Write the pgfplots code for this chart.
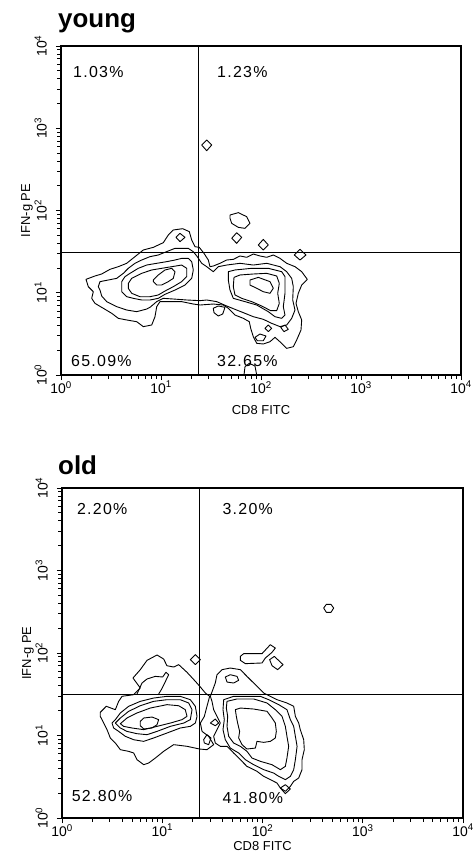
\documentclass[border=0pt]{standalone}
\usepackage{fontspec}
\setmainfont{Liberation Sans}
\newfontfamily\pctfont[LetterSpace=8]{Liberation Sans}
\usepackage{pgfplots}
\pgfplotsset{compat=1.18}
\newcommand\tickfont{\fontsize{14}{14}\selectfont}
\newcommand\labfont{\fontsize{13}{13}\selectfont}
\newcommand\pfont{\pctfont\fontsize{16}{16}\selectfont}
\tikzset{ct/.style={black, line width=0.9bp, line join=round, mark=none}}
\pgfplotsset{
  flow/.style={
    scale only axis, width=400bp, height=329bp,
    xmin=0, xmax=4, ymin=0, ymax=4,
    xtick={0,1,2,3,4}, ytick={0,1,2,3,4},
    xticklabels={10\textsuperscript{0},10\textsuperscript{1},10\textsuperscript{2},10\textsuperscript{3},10\textsuperscript{4}},
    yticklabels={10\textsuperscript{0},10\textsuperscript{1},10\textsuperscript{2},10\textsuperscript{3},10\textsuperscript{4}},
    minor xtick={0.301,0.477,0.602,0.699,0.778,0.845,0.903,0.954,1.301,1.477,1.602,1.699,1.778,1.845,1.903,1.954,2.301,2.477,2.602,2.699,2.778,2.845,2.903,2.954,3.301,3.477,3.602,3.699,3.778,3.845,3.903,3.954},
    minor ytick={0.301,0.477,0.602,0.699,0.778,0.845,0.903,0.954,1.301,1.477,1.602,1.699,1.778,1.845,1.903,1.954,2.301,2.477,2.602,2.699,2.778,2.845,2.903,2.954,3.301,3.477,3.602,3.699,3.778,3.845,3.903,3.954},
    tick align=outside, xtick pos=bottom, ytick pos=left,
    major tick length=5bp, minor tick length=3.5bp,
    tick style={black, line width=0.8bp},
    axis line style={black, line width=1.5bp},
    xticklabel style={font=\tickfont, anchor=north, inner sep=1bp},
    yticklabel style={font=\tickfont, rotate=90, anchor=south, inner sep=1bp},
    yticklabel shift=8bp,
    xlabel={CD8 FITC}, ylabel={IFN-g PE},
    every axis x label/.style={at={(axis description cs:0.5,0)}, anchor=center, font=\labfont},
    every axis y label/.style={at={(axis description cs:-0.085,0.5)}, rotate=90, anchor=center, font=\labfont},
    title style={at={(axis description cs:0,1)}, anchor=base west, inner sep=0pt, font=\fontsize{26}{28}\selectfont\bfseries},
  }
}
\begin{document}
\begin{tikzpicture}
\path[use as bounding box] (0,0) rectangle (474bp,-859bp);
% ---------------- young ----------------
\begin{axis}[flow, at={(61bp,-46bp)}, anchor=north west,
  title={young}, title style={xshift=-3bp, yshift=13bp},
  x label style={yshift=-35bp}]
\addplot[black, line width=1.4bp] coordinates {(1.373,0) (1.373,4)};
\addplot[black, line width=1.4bp] coordinates {(0,1.487) (4,1.487)};
% level 1
\addplot[ct] coordinates {(0.25,1.163) (0.34,1.204) (0.407,1.228) (0.49,1.285) (0.573,1.317) (0.657,1.358) (0.74,1.439) (0.823,1.52) (0.923,1.552) (1.023,1.609) (1.073,1.702) (1.123,1.763) (1.217,1.779) (1.283,1.743) (1.307,1.641) (1.34,1.56) (1.383,1.552) (1.43,1.479) (1.473,1.398) (1.49,1.317) (1.523,1.325) (1.59,1.358) (1.657,1.398) (1.723,1.406) (1.79,1.447) (1.857,1.431) (1.923,1.471) (1.99,1.447) (2.057,1.431) (2.123,1.459) (2.19,1.418) (2.257,1.358) (2.34,1.317) (2.407,1.256) (2.463,1.163) (2.407,1.094) (2.373,0.993) (2.35,0.871) (2.373,0.77) (2.407,0.669) (2.4,0.547) (2.357,0.426) (2.323,0.344) (2.257,0.324) (2.207,0.385) (2.14,0.458) (2.09,0.405) (2.023,0.377) (1.957,0.385) (1.923,0.466) (1.897,0.567) (1.883,0.648) (1.823,0.689) (1.74,0.729) (1.673,0.811) (1.623,0.851) (1.523,0.863) (1.39,0.851) (1.323,0.863) (1.207,0.892) (1.09,0.892) (0.99,0.892) (0.957,0.831) (0.94,0.709) (0.907,0.608) (0.823,0.588) (0.757,0.648) (0.657,0.669) (0.573,0.689) (0.507,0.75) (0.423,0.811) (0.34,0.871) (0.307,0.932) (0.323,1.013) (0.273,1.074)} --cycle;
% level 2
\addplot[ct] coordinates {(0.373,1.074) (0.39,1.135) (0.473,1.155) (0.557,1.175) (0.623,1.236) (0.673,1.297) (0.74,1.358) (0.807,1.398) (0.89,1.439) (0.973,1.459) (1.073,1.508) (1.14,1.54) (1.273,1.54) (1.323,1.499) (1.363,1.439) (1.407,1.358) (1.457,1.317) (1.523,1.256) (1.573,1.317) (1.657,1.337) (1.79,1.358) (1.923,1.337) (2.057,1.358) (2.19,1.317) (2.257,1.256) (2.307,1.175) (2.323,1.074) (2.317,0.912) (2.34,0.79) (2.307,0.689) (2.257,0.608) (2.19,0.588) (2.107,0.628) (2.023,0.677) (1.923,0.709) (1.84,0.75) (1.757,0.79) (1.657,0.839) (1.557,0.892) (1.457,0.912) (1.39,0.904) (1.257,0.912) (1.123,0.924) (1.023,0.932) (0.957,0.892) (0.89,0.823) (0.857,0.802) (0.757,0.77) (0.657,0.79) (0.557,0.831) (0.457,0.892) (0.407,0.96) (0.39,1.033)} --cycle;
% level 3 left
\addplot[ct] coordinates {(0.607,1.135) (0.64,1.196) (0.69,1.236) (0.773,1.297) (0.857,1.337) (0.957,1.358) (1.057,1.378) (1.14,1.398) (1.207,1.418) (1.273,1.418) (1.307,1.378) (1.323,1.277) (1.307,1.175) (1.24,1.094) (1.14,1.033) (1.04,0.981) (0.973,0.932) (0.89,0.912) (0.807,0.912) (0.723,0.932) (0.657,0.952) (0.607,1.013)} --cycle;
% level 4 left
\addplot[ct] coordinates {(0.673,1.114) (0.707,1.175) (0.807,1.236) (0.907,1.277) (1.007,1.297) (1.107,1.317) (1.207,1.337) (1.257,1.297) (1.257,1.196) (1.207,1.135) (1.123,1.074) (1.04,1.021) (0.973,0.973) (0.89,0.952) (0.79,0.952) (0.707,0.993) (0.673,1.054)} --cycle;
% level 5 left
\addplot[ct] coordinates {(0.923,1.155) (0.973,1.216) (1.04,1.277) (1.107,1.297) (1.14,1.256) (1.123,1.175) (1.073,1.135) (1.007,1.094) (0.957,1.094) (0.923,1.135)} --cycle;
% level 3 right
\addplot[ct] coordinates {(1.673,1.256) (1.74,1.277) (1.907,1.297) (2.073,1.297) (2.207,1.256) (2.24,1.196) (2.24,0.993) (2.223,0.831) (2.24,0.729) (2.207,0.689) (2.14,0.709) (2.073,0.77) (1.957,0.851) (1.84,0.892) (1.723,0.932) (1.69,1.033) (1.673,1.155)} --cycle;
% level 4 right
\addplot[ct] coordinates {(1.73,1.187) (1.79,1.216) (1.923,1.228) (2.057,1.236) (2.157,1.204) (2.183,1.114) (2.167,0.993) (2.183,0.871) (2.157,0.782) (2.097,0.782) (2.007,0.839) (1.907,0.892) (1.807,0.932) (1.74,0.973) (1.723,1.074)} --cycle;
% level 5 right
\addplot[ct] coordinates {(1.89,1.155) (1.973,1.187) (2.09,1.135) (2.123,1.054) (2.09,0.993) (2.023,1.013) (1.957,1.054) (1.89,1.094)} --cycle;
% islands
\addplot[ct] coordinates {(1.407,2.796) (1.457,2.857) (1.507,2.796) (1.457,2.727)} --cycle;
\addplot[ct] coordinates {(1.69,1.945) (1.773,1.974) (1.857,1.925) (1.89,1.844) (1.84,1.783) (1.773,1.795) (1.707,1.844) (1.69,1.905)} --cycle;
\addplot[ct] coordinates {(1.707,1.662) (1.757,1.73) (1.807,1.674) (1.757,1.601)} --cycle;
\addplot[ct] coordinates {(1.973,1.581) (2.023,1.649) (2.073,1.581) (2.023,1.52)} --cycle;
\addplot[ct] coordinates {(2.333,1.459) (2.39,1.528) (2.45,1.459) (2.39,1.398)} --cycle;
\addplot[ct] coordinates {(1.15,1.674) (1.19,1.722) (1.24,1.674) (1.19,1.621)} --cycle;
\addplot[ct] coordinates {(1.523,0.811) (1.573,0.839) (1.64,0.823) (1.617,0.742) (1.573,0.717) (1.53,0.758)} --cycle;
\addplot[ct] coordinates {(1.94,0.458) (1.99,0.498) (2.05,0.474) (2.023,0.417) (1.963,0.417)} --cycle;
\addplot[ct] coordinates {(2.04,0.567) (2.073,0.608) (2.107,0.567) (2.073,0.527)} --cycle;
\addplot[ct] coordinates {(2.197,0.58) (2.24,0.608) (2.273,0.555) (2.23,0.527)} --cycle;
\addplot[ct] coordinates {(1.83,0) (1.84,0.101) (1.883,0.142) (1.94,0.109) (1.957,0)};
\node[anchor=west, inner sep=0pt, font=\pfont] at (rel axis cs:0.03,0.921) {1.03\%};
\node[anchor=west, inner sep=0pt, font=\pfont] at (rel axis cs:0.39,0.921) {1.23\%};
\node[anchor=west, inner sep=0pt, font=\pfont] at (rel axis cs:0.025,0.043) {65.09\%};
\node[anchor=west, inner sep=0pt, font=\pfont] at (rel axis cs:0.39,0.043) {32.65\%};
\end{axis}
% ---------------- old ----------------
\begin{axis}[flow, at={(62bp,-488bp)}, anchor=north west, width=401bp, height=330bp,
  title={old}, title style={xshift=-4bp, yshift=8bp},
  x label style={yshift=-28bp}]
\addplot[black, line width=1.4bp] coordinates {(1.373,0) (1.373,4)};
\addplot[black, line width=1.4bp] coordinates {(0,1.495) (4,1.495)};
% left level 1
\addplot[ct] coordinates {(0.382,1.281) (0.442,1.354) (0.532,1.313) (0.565,1.414) (0.599,1.475) (0.715,1.495) (0.781,1.576) (0.708,1.697) (0.781,1.798) (0.848,1.911) (0.948,1.976) (1.014,1.927) (1.047,1.846) (1.114,1.83) (1.164,1.859) (1.247,1.766) (1.33,1.657) (1.38,1.588) (1.43,1.515) (1.473,1.475) (1.446,1.354) (1.42,1.232) (1.38,1.151) (1.397,1.05) (1.463,0.99) (1.513,0.889) (1.446,0.828) (1.373,0.836) (1.247,0.869) (1.114,0.889) (1.014,0.808) (0.931,0.727) (0.865,0.667) (0.815,0.646) (0.748,0.707) (0.715,0.788) (0.665,0.808) (0.582,0.828) (0.532,0.909) (0.482,0.97) (0.449,1.071) (0.416,1.151) (0.382,1.232)} --cycle;
% left level 2
\addplot[ct] coordinates {(0.499,1.151) (0.532,1.192) (0.582,1.273) (0.665,1.354) (0.781,1.414) (0.914,1.454) (1.047,1.475) (1.18,1.475) (1.28,1.434) (1.33,1.354) (1.347,1.232) (1.33,1.151) (1.28,1.111) (1.18,1.091) (1.047,1.03) (0.914,0.97) (0.815,0.929) (0.715,0.949) (0.632,0.99) (0.565,1.05) (0.515,1.091)} --cycle;
% left level 3
\addplot[ct] coordinates {(0.532,1.151) (0.582,1.212) (0.665,1.293) (0.781,1.361) (0.914,1.414) (1.047,1.434) (1.18,1.434) (1.264,1.394) (1.297,1.313) (1.28,1.192) (1.214,1.151) (1.081,1.111) (0.948,1.05) (0.848,1.01) (0.748,1.022) (0.648,1.05) (0.582,1.091)} --cycle;
% left level 4
\addplot[ct] coordinates {(0.582,1.143) (0.648,1.212) (0.748,1.273) (0.881,1.333) (1.047,1.374) (1.164,1.361) (1.23,1.313) (1.247,1.232) (1.197,1.192) (1.081,1.151) (0.948,1.111) (0.815,1.071) (0.698,1.091) (0.615,1.111)} --cycle;
% left level 5
\addplot[ct] coordinates {(0.781,1.172) (0.815,1.212) (0.898,1.224) (0.964,1.192) (0.948,1.131) (0.898,1.091) (0.815,1.079) (0.781,1.119)} --cycle;
% upper-left inner
\addplot[ct] coordinates {(0.748,1.503) (0.798,1.636) (0.848,1.685) (0.931,1.717) (1.004,1.709) (1.037,1.766) (1.064,1.737) (1.024,1.636) (0.991,1.556) (0.964,1.503)};
% right level 1
\addplot[ct] coordinates {(1.48,1.475) (1.529,1.636) (1.546,1.737) (1.596,1.798) (1.679,1.818) (1.779,1.798) (1.845,1.717) (1.912,1.636) (1.962,1.576) (2.012,1.515) (2.078,1.475) (2.145,1.434) (2.244,1.394) (2.311,1.354) (2.328,1.232) (2.361,1.151) (2.377,1.071) (2.411,0.949) (2.417,0.828) (2.394,0.707) (2.394,0.586) (2.361,0.485) (2.311,0.444) (2.278,0.384) (2.228,0.323) (2.178,0.364) (2.145,0.424) (2.078,0.465) (2.012,0.505) (1.945,0.566) (1.845,0.626) (1.779,0.707) (1.712,0.788) (1.646,0.869) (1.579,0.869) (1.529,0.909) (1.513,0.99) (1.546,1.071) (1.579,1.151) (1.546,1.232) (1.513,1.313) (1.496,1.414)} --cycle;
% right level 2
\addplot[ct] coordinates {(1.613,1.434) (1.712,1.475) (1.845,1.475) (1.979,1.475) (2.062,1.434) (2.162,1.374) (2.244,1.313) (2.278,1.192) (2.311,1.111) (2.328,0.99) (2.345,0.869) (2.328,0.707) (2.311,0.586) (2.278,0.505) (2.228,0.465) (2.162,0.505) (2.111,0.545) (2.012,0.586) (1.912,0.646) (1.829,0.707) (1.762,0.788) (1.679,0.848) (1.629,0.949) (1.606,1.071) (1.619,1.192) (1.606,1.313)} --cycle;
% right level 3
\addplot[ct] coordinates {(1.646,1.414) (1.746,1.443) (1.912,1.443) (2.045,1.394) (2.128,1.313) (2.195,1.232) (2.228,1.111) (2.244,0.99) (2.261,0.869) (2.244,0.727) (2.228,0.626) (2.178,0.586) (2.095,0.646) (1.979,0.687) (1.895,0.727) (1.845,0.808) (1.779,0.869) (1.712,0.909) (1.663,0.99) (1.646,1.111) (1.653,1.232) (1.639,1.333)} --cycle;
% right level 4
\addplot[ct] coordinates {(1.729,1.313) (1.779,1.333) (1.912,1.321) (2.045,1.293) (2.095,1.212) (2.128,1.151) (2.138,1.05) (2.128,0.97) (2.078,0.929) (2.012,0.917) (1.945,0.929) (1.929,0.848) (1.845,0.836) (1.796,0.889) (1.762,0.97) (1.772,1.05) (1.752,1.151) (1.739,1.232)} --cycle;
% islands
\addplot[ct] coordinates {(2.61,2.545) (2.637,2.59) (2.683,2.59) (2.71,2.545) (2.683,2.493) (2.637,2.493)} --cycle;
\addplot[ct] coordinates {(1.28,1.919) (1.33,1.98) (1.38,1.919) (1.33,1.859)} --cycle;
\addplot[ct] coordinates {(1.779,1.959) (1.812,1.992) (1.995,1.992) (2.078,2.101) (2.128,2.06) (2.095,2.008) (2.028,1.939) (1.995,1.879) (1.829,1.871) (1.779,1.911)} --cycle;
\addplot[ct] coordinates {(2.071,1.919) (2.118,1.959) (2.205,1.859) (2.151,1.798) (2.095,1.846)} --cycle;
\addplot[ct] coordinates {(1.629,1.709) (1.679,1.737) (1.746,1.717) (1.762,1.669) (1.712,1.636) (1.646,1.648)} --cycle;
\addplot[ct] coordinates {(1.48,1.151) (1.529,1.2) (1.563,1.151) (1.529,1.119)} --cycle;
\addplot[ct] coordinates {(1.413,0.949) (1.446,1.01) (1.486,0.97) (1.463,0.889) (1.42,0.909)} --cycle;
\addplot[ct] coordinates {(2.178,0.364) (2.228,0.404) (2.278,0.352) (2.228,0.295)} --cycle;
\node[anchor=west, inner sep=0pt, font=\pfont] at (rel axis cs:0.037,0.936) {2.20\%};
\node[anchor=west, inner sep=0pt, font=\pfont] at (rel axis cs:0.40,0.936) {3.20\%};
\node[anchor=west, inner sep=0pt, font=\pfont] at (rel axis cs:0.024,0.068) {52.80\%};
\node[anchor=west, inner sep=0pt, font=\pfont] at (rel axis cs:0.40,0.06) {41.80\%};
\end{axis}
\end{tikzpicture}
\end{document}
